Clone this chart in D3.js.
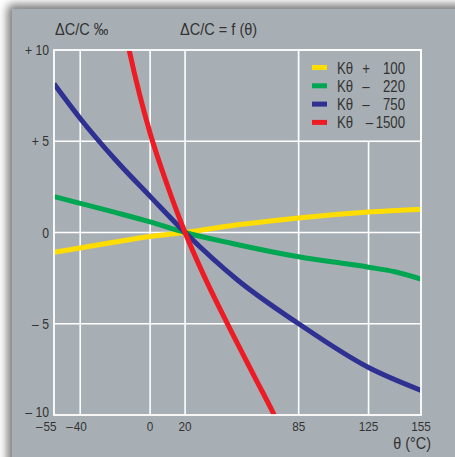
<!DOCTYPE html>
<html>
<head>
<meta charset="utf-8">
<script src="https://cdn.jsdelivr.net/npm/d3@7"></script>
<style>
  html, body { margin: 0; padding: 0; background: #ffffff; }
  svg { display: block; }
  text { font-family: "Liberation Sans", Arial, sans-serif; fill: #333333; }
</style>
</head>
<body>
<script>
// ---- data ----
const xTicks = [-55, -40, 0, 20, 85, 125, 155];
const xGrid = [-40, 0, 20, 85, 125];
const yTicks = [-10, -5, 0, 5, 10];
const yGrid = [-5, 0, 5];

const seriesNames = ["K\u03B8 +100", "K\u03B8 \u2013220", "K\u03B8 \u2013750", "K\u03B8 \u20131500"];
const legendSigns = ["+", "\u2013", "\u2013", "\u2013"];
const legendValues = ["100", "220", "750", "1500"];
const seriesColors = ["#ffdd00", "#00a651", "#2e3192", "#ed1c24"];

const tempYellow = [-55, -40, -20, 0, 20, 50, 85, 125, 155];
const valYellow  = [-1.08, -0.85, -0.52, -0.22, 0, 0.42, 0.8, 1.12, 1.28];

const tempGreen = [-55, -40, -20, 0, 20, 47, 85, 125, 140, 155];
const valGreen  = [1.97, 1.6, 1.1, 0.58, 0, -0.6, -1.33, -1.9, -2.15, -2.55];

const tempBlue = [-55, -40, -20, 0, 20, 50, 85, 125, 155];
const valBlue  = [8.15, 6.25, 4.0, 1.98, 0, -2.6, -5.0, -7.4, -8.65];

const tempRed = [-13, -12, -6, 0, 10, 20, 30, 45, 60, 71, 72];
const valRed  = [10.45, 10.0, 7.55, 5.44, 2.55, 0, -2.2, -5.15, -7.95, -10.0, -10.2];

const W = 455, H = 457;
const svg = d3.select("body").append("svg").attr("width", W).attr("height", H);

// condensed text helper
function txt(g, x, y, s, size, anchor, sx) {
  return g.append("text")
    .attr("transform", `translate(${x},${y}) scale(${sx},1)`)
    .attr("text-anchor", anchor || "start")
    .attr("font-size", size)
    .text(s);
}

// shadow + panel
const defs = svg.append("defs");
const f = defs.append("filter").attr("id", "sh").attr("x", "-20%").attr("y", "-20%").attr("width", "140%").attr("height", "140%");
f.append("feGaussianBlur").attr("stdDeviation", 4);
svg.append("rect").attr("x", 7).attr("y", 4).attr("width", 470).attr("height", 470)
  .attr("rx", 6).attr("fill", "#555").attr("opacity", 0.75).attr("filter", "url(#sh)");
svg.append("rect").attr("x", 12).attr("y", 9).attr("width", 460).attr("height", 460)
  .attr("fill", "#a8afb4");

const x = d3.scaleLinear().domain([-55, 155]).range([54, 421]);
const y = d3.scaleLinear().domain([-10, 10]).range([415, 50]);

defs.append("clipPath").attr("id", "plot").append("rect")
  .attr("x", x(-55)).attr("y", y(10)).attr("width", x(155) - x(-55)).attr("height", y(-10) - y(10));

// gridlines
const grid = svg.append("g").attr("stroke", "#ffffff").attr("stroke-width", 1.6);
grid.selectAll(".vg").data(xGrid).join("line")
  .attr("x1", d => x(d)).attr("x2", d => x(d)).attr("y1", y(10)).attr("y2", y(-10));
grid.selectAll(".hg").data(yGrid).join("line")
  .attr("x1", x(-55)).attr("x2", x(155)).attr("y1", d => y(d)).attr("y2", d => y(d));

// legend box (covers gridline)
svg.append("rect").attr("x", x(85)).attr("y", y(10)).attr("width", x(155) - x(85)).attr("height", y(5) - y(10))
  .attr("fill", "#a8afb4").attr("stroke", "#ffffff").attr("stroke-width", 1.6);

// curves
const series = [
  {t: tempYellow, v: valYellow},
  {t: tempGreen, v: valGreen},
  {t: tempBlue, v: valBlue},
  {t: tempRed, v: valRed}
];
const line = d3.line().x(d => x(d[0])).y(d => y(d[1])).curve(d3.curveMonotoneX);
const cg = svg.append("g").attr("clip-path", "url(#plot)");
series.forEach((s, i) => {
  cg.append("path").datum(s.t.map((t, j) => [t, s.v[j]]))
    .attr("d", line).attr("fill", "none").attr("stroke", seriesColors[i])
    .attr("stroke-width", 5).attr("stroke-linejoin", "round");
});

// frame
svg.append("rect").attr("x", x(-55)).attr("y", y(10)).attr("width", x(155) - x(-55)).attr("height", y(-10) - y(10))
  .attr("fill", "none").attr("stroke", "#ffffff").attr("stroke-width", 1.8);

// y tick labels
const fmtY = d => d > 0 ? "+ " + d : d < 0 ? "\u2013 " + (-d) : "0";
const yl = svg.append("g");
yTicks.forEach(d => {
  txt(yl, 49, y(d) + (d === -10 ? 1.5 : 5), fmtY(d), 14, "end", 0.87);
});

// x tick labels
const xl = svg.append("g");
xTicks.forEach(d => {
  const cx = x(d) + (d === -55 ? -4 : 0);
  txt(xl, cx, 431, String(Math.abs(d)), 13.5, "middle", 0.87);
  if (d < 0) {
    txt(xl, cx - 7.5, 431, "\u2013", 13.5, "end", 0.87);
  }
});

// titles
const tg = svg.append("g");
txt(tg, 55, 35, "\u0394C/C \u2030", 16, "start", 0.91);
txt(tg, 180, 35, "\u0394C/C = f (\u03B8)", 16, "start", 0.91);
txt(tg, 431, 449, "\u03B8 (\u00B0C)", 16, "end", 0.9);

// legend
const lg = svg.append("g");
seriesNames.forEach((n, i) => {
  const ry = 67.5 + i * 18.3;
  lg.append("rect").attr("x", 312).attr("y", ry - 2.5).attr("width", 15).attr("height", 5).attr("fill", seriesColors[i]);
  txt(lg, 337, ry + 6, "K\u03B8", 16.5, "start", 0.8);
  txt(lg, i === 3 ? 369.5 : 366, ry + 6, legendSigns[i], 16.5, "middle", 0.8);
  txt(lg, 405, ry + 6, legendValues[i], 16.5, "end", 0.8);
});
</script>
</body>
</html>
